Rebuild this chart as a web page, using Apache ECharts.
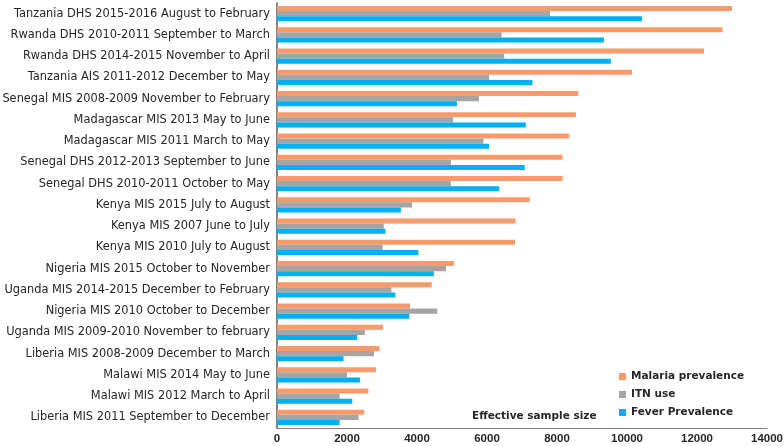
<!DOCTYPE html>
<html><head><meta charset="utf-8">
<script src="https://cdn.jsdelivr.net/npm/echarts@6/dist/echarts.min.js"></script>
<style>html,body{margin:0;padding:0;background:#fff}#c{width:784px;height:446px}</style>
</head><body><div id="c"></div>
<script>
var categories = [
 "Tanzania DHS 2015-2016 August to February",
 "Rwanda DHS 2010-2011 September to March",
 "Rwanda DHS 2014-2015 November to April",
 "Tanzania AIS 2011-2012 December to May",
 "Senegal MIS 2008-2009 November to February",
 "Madagascar MIS 2013 May to June",
 "Madagascar MIS 2011 March to May",
 "Senegal DHS 2012-2013 September to June",
 "Senegal DHS 2010-2011 October to May",
 "Kenya MIS 2015 July to August",
 "Kenya MIS 2007 June to July",
 "Kenya MIS 2010 July to August",
 "Nigeria MIS 2015 October to November",
 "Uganda MIS 2014-2015 December to February",
 "Nigeria MIS 2010 October to December",
 "Uganda MIS 2009-2010 November to february",
 "Liberia MIS 2008-2009 December to March",
 "Malawi MIS 2014 May to June",
 "Malawi MIS 2012 March to April",
 "Liberia MIS 2011 September to December"
];
var malaria = [13000,12730,12200,10140,8610,8540,8350,8160,8160,7220,6820,6800,5060,4420,3800,3030,2930,2830,2610,2490];
var itn     = [7800,6420,6490,6060,5770,5030,5900,4970,4970,3860,3050,3020,4830,3270,4580,2510,2770,2000,1790,2330];
var fever   = [10430,9340,9540,7300,5140,7110,6060,7080,6350,3540,3100,4040,4480,3380,3780,2290,1900,2370,2150,1790];
var seriesNames = ["Malaria prevalence","ITN use","Fever Prevalence"];
var xAxisName = "Effective sample size";

var FONT = "DejaVu Sans";
var chart = echarts.init(document.getElementById('c'), null, {renderer:'canvas'});
chart.setOption({
  animation:false,
  textStyle:{fontFamily:FONT},
  grid:{left:277, right:17, top:3, bottom:18, containLabel:false, outerBoundsMode:'none'},
  legend:{
    orient:'vertical', left:614, top:366, itemWidth:7, itemHeight:7, itemGap:7,
    icon:'rect',
    textStyle:{fontFamily:FONT, fontSize:10.5, color:'#262626', fontWeight:'bold'},
    data:seriesNames
  },
  title:{text:xAxisName, left:467, top:406,
    textStyle:{fontFamily:FONT, fontSize:10.5, fontWeight:'bold', color:'#262626'}},
  xAxis:{type:'value', min:0, max:14000, interval:2000,
    axisLine:{show:true, lineStyle:{color:'#7f7f7f', width:1}},
    axisTick:{show:false},
    splitLine:{show:false},
    axisLabel:{fontFamily:'Liberation Sans', fontSize:11.5, fontWeight:'bold', color:'#262626', margin:5,
      formatter:function(v){return String(v);}}
  },
  yAxis:{type:'category', inverse:true, data:categories,
    axisLine:{show:true, lineStyle:{color:'#595959', width:1.5}},
    axisTick:{show:false},
    axisLabel:{fontFamily:FONT, fontSize:11.4, color:'#262626', margin:7}
  },
  series:[
    {name:seriesNames[0], type:'bar', data:malaria, itemStyle:{color:'#FA9A6B'}, barGap:'0%', barCategoryGap:'29%'},
    {name:seriesNames[1], type:'bar', data:itn, itemStyle:{color:'#A5A5A5'}, barGap:'0%', barCategoryGap:'29%'},
    {name:seriesNames[2], type:'bar', data:fever, itemStyle:{color:'#00B0F0'}, barGap:'0%', barCategoryGap:'29%'}
  ]
});
</script></body></html>
